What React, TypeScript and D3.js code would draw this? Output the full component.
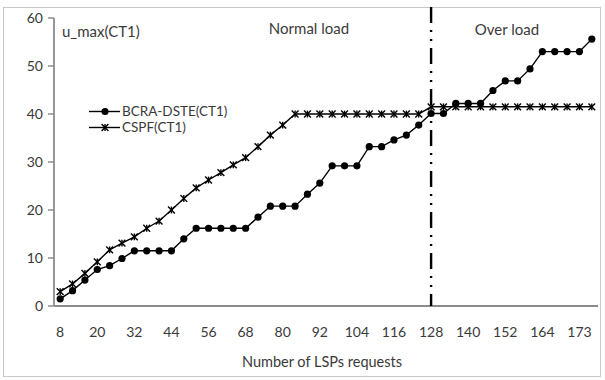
import React from "react";
import * as d3 from "d3";

// Number of LSP requests (category axis)
const requests = [
  8, 12, 16, 20, 24, 28, 32, 36, 40, 44, 48, 52, 56, 60, 64, 68, 72, 76, 80, 84,
  88, 92, 96, 100, 104, 108, 112, 116, 120, 124, 128, 132, 136, 140, 144, 148,
  152, 156, 160, 164, 167, 170, 173, 176,
];

// Labels shown on the category axis (every third request)
const tickLabels = ["8", "20", "32", "44", "56", "68", "80", "92", "104", "116", "128", "140", "152", "164", "173"];

const yTicks = [0, 10, 20, 30, 40, 50, 60];

// u_max(CT1) for BCRA-DSTE
const bcraDste = [
  1.5, 3.2, 5.4, 7.6, 8.4, 9.9, 11.5, 11.5, 11.5, 11.5, 14.0, 16.2, 16.2, 16.2,
  16.2, 16.2, 18.5, 20.8, 20.8, 20.8, 23.3, 25.6, 29.2, 29.2, 29.2, 33.2, 33.2,
  34.6, 35.6, 37.7, 40.1, 40.1, 42.2, 42.2, 42.2, 44.9, 46.9, 46.9, 49.4, 53.0,
  53.0, 53.0, 53.0, 55.6,
];

// u_max(CT1) for CSPF
const cspf = [
  3.0, 4.6, 6.8, 9.2, 11.7, 13.1, 14.4, 16.2, 17.7, 20.0, 22.4, 24.6, 26.25,
  27.8, 29.4, 30.9, 33.2, 35.6, 37.7, 40.0, 40.0, 40.0, 40.0, 40.0, 40.0, 40.0,
  40.0, 40.0, 40.0, 40.0, 41.5, 41.5, 41.5, 41.5, 41.5, 41.5, 41.5, 41.5, 41.5,
  41.5, 41.5, 41.5, 41.5, 41.5,
];

// Boundary between normal and overload regimes
const overloadStart = 128;

const FONT = "Lato, 'Open Sans', sans-serif";
const TEXT = "#3a3a3a";
const AXIS = "#8c8c8c";

function Star({ cx, cy }: { cx: number; cy: number }) {
  const s = 3.4;
  return (
    <g stroke="#000" strokeWidth={1.4}>
      <line x1={cx - s} y1={cy - s} x2={cx + s} y2={cy + s} />
      <line x1={cx - s} y1={cy + s} x2={cx + s} y2={cy - s} />
      <line x1={cx} y1={cy - s} x2={cx} y2={cy + s} />
    </g>
  );
}

export default function App() {
  const W = 605;
  const H = 380;
  const left = 54;
  const right = 598;
  const top = 18;
  const bottom = 306;

  const band = d3
    .scaleBand<number>()
    .domain(requests.map((_, i) => i))
    .range([left, right])
    .padding(0);
  const cx = (i: number) => (band(i) as number) + band.bandwidth() / 2;
  const y = d3.scaleLinear().domain([0, 60]).range([bottom, top]);

  const line = d3
    .line<number>()
    .x((_, i) => cx(i))
    .y((d) => y(d));

  const splitX = cx(requests.indexOf(overloadStart));

  return (
    <svg
      width={W}
      height={H}
      style={{ position: "absolute", left: 0, top: 0, background: "#fff" }}
      fontFamily={FONT}
    >
      <rect x={0} y={0} width={W} height={H} fill="#fff" />
      <rect x={3.5} y={7.5} width={597} height={369} fill="none" stroke="#c8c8c8" strokeWidth={1} />

      {/* y axis */}
      <line x1={left} y1={top} x2={left} y2={bottom} stroke={AXIS} strokeWidth={1.8} />
      {yTicks.map((t) => (
        <g key={t}>
          <line x1={left - 6} x2={left} y1={y(t)} y2={y(t)} stroke={AXIS} strokeWidth={1.5} />
          <text x={43} y={y(t)} dy="0.35em" textAnchor="end" fontSize={14} fill={TEXT}>
            {t}
          </text>
        </g>
      ))}

      {/* x axis */}
      <line x1={left} y1={bottom} x2={right} y2={bottom} stroke={AXIS} strokeWidth={1.8} />
      {requests.map((r, i) =>
        i % 3 === 0 ? (
          <text key={i} x={cx(i)} y={332} dy="0.35em" textAnchor="middle" fontSize={14} fill={TEXT}>
            {tickLabels[i / 3]}
          </text>
        ) : null
      )}
      <text x={322} y={362} dy="0.35em" textAnchor="middle" fontSize={14.5} fill={TEXT}>
        Number of LSPs requests
      </text>

      {/* regime boundary */}
      <line
        x1={splitX}
        x2={splitX}
        y1={7}
        y2={bottom}
        stroke="#000"
        strokeWidth={2.4}
        strokeDasharray="16 7 2 7 2 7"
      />

      {/* series */}
      <path d={line(cspf) || ""} fill="none" stroke="#000" strokeWidth={1.4} />
      {cspf.map((v, i) => (
        <Star key={i} cx={cx(i)} cy={y(v)} />
      ))}
      <path d={line(bcraDste) || ""} fill="none" stroke="#000" strokeWidth={1.4} />
      {bcraDste.map((v, i) => (
        <circle key={i} cx={cx(i)} cy={y(v)} r={3.6} fill="#000" />
      ))}

      {/* annotations */}
      <text x={62} y={32} dy="0.35em" fontSize={15} fill={TEXT}>
        u_max(CT1)
      </text>
      <text x={309} y={29} dy="0.35em" textAnchor="middle" fontSize={15} fill={TEXT}>
        Normal load
      </text>
      <text x={507} y={30} dy="0.35em" textAnchor="middle" fontSize={15} fill={TEXT}>
        Over load
      </text>

      {/* legend */}
      <line x1={89} x2={120} y1={111.5} y2={111.5} stroke="#000" strokeWidth={1.4} />
      <circle cx={105} cy={111.5} r={3.6} fill="#000" />
      <text x={122} y={111.5} dy="0.35em" fontSize={13.5} fill={TEXT}>
        BCRA-DSTE(CT1)
      </text>
      <line x1={89} x2={120} y1={127.5} y2={127.5} stroke="#000" strokeWidth={1.4} />
      <Star cx={105} cy={127.5} />
      <text x={122} y={127.5} dy="0.35em" fontSize={13.5} fill={TEXT}>
        CSPF(CT1)
      </text>
    </svg>
  );
}
